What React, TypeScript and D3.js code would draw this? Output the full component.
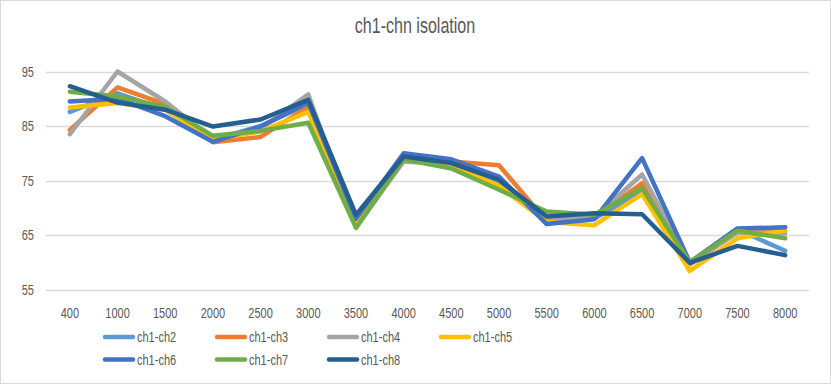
import React, { useRef, useEffect } from "react";
import * as d3 from "d3";

const categories = ["400", "1000", "1500", "2000", "2500", "3000", "3500", "4000", "4500", "5000", "5500", "6000", "6500", "7000", "7500", "8000"];
const yTicks = [55, 65, 75, 85, 95];

const seriesNames = ["ch1-ch2", "ch1-ch3", "ch1-ch4", "ch1-ch5", "ch1-ch6", "ch1-ch7", "ch1-ch8"];
const colors = ["#5B9BD5", "#ED7D31", "#A5A5A5", "#FFC000", "#4472C4", "#70AD47", "#255E91"];

const ch2 = [87.6, 91.0, 88.0, 82.5, 85.0, 89.0, 67.3, 79.5, 78.0, 75.0, 67.5, 68.0, 73.0, 59.7, 66.0, 62.1];
const ch3 = [84.3, 92.1, 89.0, 82.0, 83.0, 88.5, 67.2, 79.5, 78.5, 77.8, 67.5, 68.3, 74.5, 59.6, 65.5, 65.8];
const ch4 = [83.5, 95.0, 89.5, 82.5, 84.5, 90.8, 66.5, 78.5, 78.0, 74.5, 68.0, 68.3, 76.1, 59.7, 65.5, 65.3];
const ch5 = [88.4, 89.2, 88.0, 82.5, 84.0, 87.6, 67.3, 79.5, 78.0, 74.0, 67.4, 66.8, 72.5, 58.4, 64.4, 65.8];
const ch6 = [89.5, 90.0, 86.8, 82.1, 84.9, 89.3, 68.0, 80.0, 78.9, 75.7, 67.0, 67.9, 79.1, 60.0, 66.2, 66.4];
const ch7 = [91.3, 90.4, 88.5, 83.2, 84.1, 85.6, 66.3, 78.9, 77.2, 73.3, 69.3, 68.7, 73.6, 60.0, 65.8, 64.4];
const ch8 = [92.3, 89.3, 88.0, 84.9, 86.2, 89.8, 68.7, 79.4, 78.2, 75.1, 68.4, 69.0, 68.8, 59.9, 63.0, 61.3];

const seriesValues = [ch2, ch3, ch4, ch5, ch6, ch7, ch8];

const W = 831;
const H = 384;
const FONT = "'Liberation Sans', Arial, sans-serif";

const App = () => {
  const ref = useRef<SVGSVGElement>(null);

  useEffect(() => {
    document.body.style.margin = "0";
    const svg = d3.select(ref.current);
    svg.selectAll("*").remove();

    const x = d3.scalePoint().domain(categories).range([46, 809]).padding(0.5);
    const y = d3.scaleLinear().domain([55, 95]).range([289.5, 71.5]);

    // text squeezed horizontally around its anchor point (calibri-like)
    const label = (g: any, tx: number, ty: number, txt: string, size: number, anchor: string, sx = 0.76) => {
      g.append("g")
        .attr("transform", `translate(${tx},${ty}) scale(${sx},1)`)
        .append("text")
        .attr("text-anchor", anchor)
        .style("font-family", FONT).style("font-size", `${size}px`)
        .style("fill", "#595959")
        .text(txt);
    };

    svg.append("rect")
      .attr("x", 0.5).attr("y", 0.5)
      .attr("width", W - 1).attr("height", H - 1)
      .attr("fill", "#fff").attr("stroke", "#D9D9D9");

    label(svg, 415, 33, "ch1-chn isolation", 22, "middle", 0.73);

    // gridlines
    svg.append("g").selectAll("line").data(yTicks).join("line")
      .attr("x1", 46).attr("x2", 809)
      .attr("y1", (d) => Math.round(y(d)) + 0.5).attr("y2", (d) => Math.round(y(d)) + 0.5)
      .attr("stroke", "#D9D9D9").attr("stroke-width", 1.3);

    const yAxis = svg.append("g");
    yTicks.forEach((t) => label(yAxis, 34, y(t) + 5, String(t), 14.5, "end"));

    const xAxis = svg.append("g");
    categories.forEach((c) => label(xAxis, x(c)!, 318, c, 14.5, "middle"));

    const line = d3.line<number>()
      .x((d, i) => x(categories[i])!)
      .y((d) => y(d));

    svg.append("g").selectAll("path").data(seriesValues).join("path")
      .attr("d", (d) => line(d))
      .attr("fill", "none")
      .attr("stroke", (d, i) => colors[i])
      .attr("stroke-width", 4.5)
      .attr("stroke-linejoin", "round")
      .attr("stroke-linecap", "round");

    // legend
    const legend = svg.append("g");
    seriesNames.forEach((name, i) => {
      const lx = 105 + (i % 4) * 112;
      const ly = i < 4 ? 337 : 359.5;
      legend.append("line")
        .attr("x1", lx).attr("x2", lx + 28).attr("y1", ly).attr("y2", ly)
        .attr("stroke", colors[i])
        .attr("stroke-width", 4.5)
        .attr("stroke-linecap", "round");
      label(legend, lx + 32, ly + 5, name, 14.5, "start");
    });
  }, []);

  return (
    <div style={{ position: "absolute", left: 0, top: 0 }}>
      <svg ref={ref} width={W} height={H}></svg>
    </div>
  );
};

export default App;
